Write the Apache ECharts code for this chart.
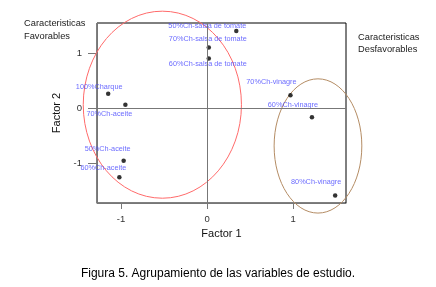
<!DOCTYPE html>
<html>
<head>
<meta charset="utf-8">
<script src="https://cdn.jsdelivr.net/npm/echarts@6/dist/echarts.min.js"></script>
<style>
  html, body { margin: 0; padding: 0; background: #fff; }
  #content { width: 436px; height: 287px; }
</style>
</head>
<body>
<div id="content"></div>
<script>
// variables de estudio
var names = ['50%Ch-salsa de tomate', '70%Ch-salsa de tomate', '60%Ch-salsa de tomate',
  '100%Charque', '70%Ch-aceite', '50%Ch-aceite', '60%Ch-aceite',
  '70%Ch-vinagre', '60%Ch-vinagre', '80%Ch-vinagre'];
var factor1 = [0.34, 0.02, 0.02, -1.15, -0.95, -0.97, -1.02, 0.97, 1.22, 1.49];
var factor2 = [1.40, 1.10, 0.90, 0.26, 0.06, -0.96, -1.26, 0.23, -0.17, -1.59];

// grupos (elipses): centro y radios en unidades de los factores
var groupCx = [-0.52, 1.29];
var groupCy = [0.06, -0.69];
var groupRx = [0.92, 0.51];
var groupRy = [1.70, 1.22];
var groupColors = ['#ff6a6a', '#b48c64'];

var tickValues = [-1, 0, 1];

// desplazamiento de cada etiqueta respecto a su punto (px)
var labelOffsets = [[-29, -5], [-1, -8], [-1, 6], [-9, -7], [-16, 9],
  [-16, -12], [-16, -9], [-19, -13], [-19, -12], [-19, -13]];

var chart = echarts.init(document.getElementById('content'));
var font = 'Liberation Sans, Arial, sans-serif';

var points = names.map(function (n, i) {
  return {
    name: n,
    value: [factor1[i], factor2[i]],
    label: { offset: labelOffsets[i] }
  };
});

var groups = groupCx.map(function (cx, i) {
  return [cx, groupCy[i], groupRx[i], groupRy[i], i];
});

var option = {
  animation: false,
  title: [
    {
      text: 'Caracteristicas\nFavorables', left: 19, top: 12,
      textStyle: { fontFamily: font, fontSize: 9.3, fontWeight: 'normal', color: '#222', lineHeight: 13 }
    },
    {
      text: 'Caracteristicas\nDesfavorables', left: 353, top: 26,
      textStyle: { fontFamily: font, fontSize: 9.3, fontWeight: 'normal', color: '#222', lineHeight: 12 }
    },
    {
      text: 'Figura 5. Agrupamiento de las variables de estudio.', left: 'center', top: 263,
      textStyle: { fontFamily: font, fontSize: 12, fontWeight: 'normal', color: '#000' }
    }
  ],
  grid: {
    left: 97, top: 23, width: 249, height: 180,
    show: true, borderColor: '#000', borderWidth: 1, backgroundColor: 'transparent'
  },
  xAxis: {
    type: 'value', min: -1.28, max: 1.616,
    name: 'Factor 1', nameLocation: 'middle', nameGap: 24,
    nameTextStyle: { fontFamily: font, fontSize: 11, color: '#111' },
    axisLine: { onZero: false, lineStyle: { color: '#777', width: 1 } },
    axisTick: { show: true, length: 6, customValues: tickValues, lineStyle: { color: '#777' } },
    axisLabel: { customValues: tickValues, margin: 11, fontFamily: font, fontSize: 9.5, color: '#333' },
    splitLine: { show: false }
  },
  yAxis: {
    type: 'value', min: -1.727, max: 1.545,
    name: 'Factor 2', nameLocation: 'middle', nameGap: 28,
    nameTextStyle: { fontFamily: font, fontSize: 11, color: '#111' },
    axisLine: { onZero: false, lineStyle: { color: '#777', width: 1 } },
    axisTick: { show: true, length: 9, customValues: tickValues, lineStyle: { color: '#777' } },
    axisLabel: { customValues: tickValues, margin: 15, fontFamily: font, fontSize: 9.5, color: '#333' },
    splitLine: { show: false }
  },
  series: [
    {
      type: 'custom',
      clip: false,
      silent: true,
      data: groups,
      renderItem: function (params, api) {
        var c = api.coord([api.value(0), api.value(1)]);
        var s = api.size([api.value(2), api.value(3)]);
        return {
          type: 'ellipse',
          shape: { cx: c[0], cy: c[1], rx: s[0], ry: s[1] },
          style: { fill: null, stroke: groupColors[api.value(4)], lineWidth: 1 }
        };
      },
      z: 3
    },
    {
      type: 'scatter',
      symbol: 'circle',
      symbolSize: 4.5,
      itemStyle: { color: '#000' },
      data: points,
      label: {
        show: true,
        position: 'inside',
        align: 'center',
        verticalAlign: 'middle',
        formatter: '{b}',
        fontFamily: font,
        fontSize: 7.3,
        color: '#4646ff'
      },
      markLine: {
        silent: true,
        symbol: 'none',
        label: { show: false },
        lineStyle: { color: '#777', width: 1, type: 'solid' },
        data: [{ xAxis: 0 }, { yAxis: 0 }]
      },
      z: 4
    }
  ]
};

chart.setOption(option);
</script>
</body>
</html>
